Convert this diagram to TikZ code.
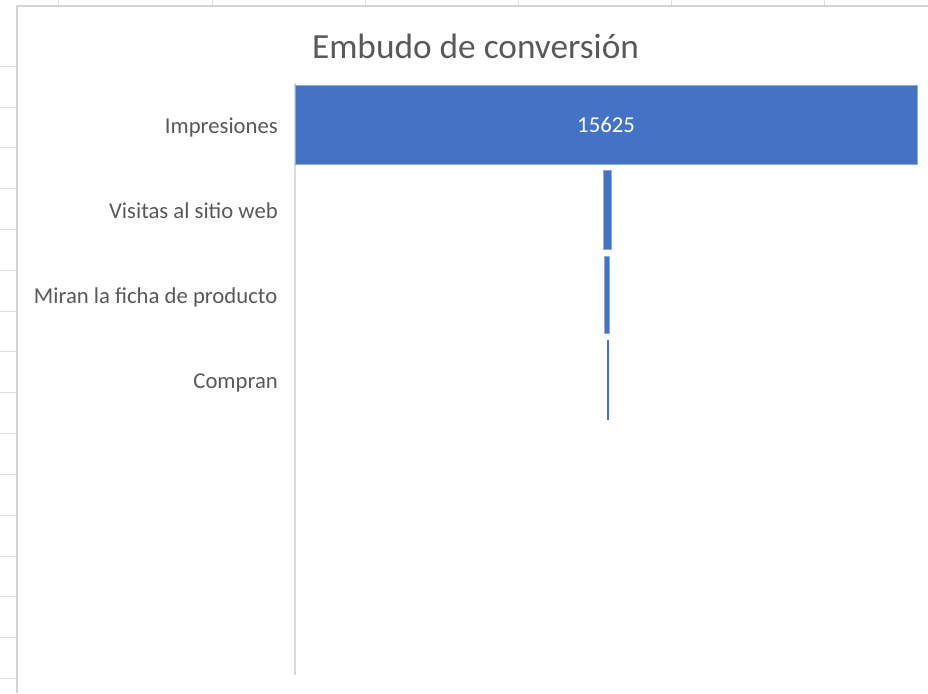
\documentclass[tikz,border=0pt]{standalone}
\usepackage{fontspec}
\setmainfont{Carlito}
\definecolor{barblue}{HTML}{4472C4}
\definecolor{baredge}{HTML}{8FAADC}
\definecolor{txtgray}{HTML}{595959}
\definecolor{axisgray}{HTML}{D9D9D9}
\definecolor{gridgray}{HTML}{DDDDDD}
\definecolor{framegray}{HTML}{D4D4D4}
\tikzset{
  bar/.style={fill=barblue, draw=baredge, line width=0.5pt, inner sep=0pt, outer sep=0pt, text=white, font=\fontsize{22.7}{27}\selectfont},
  catlabel/.style={anchor=base east, inner sep=0pt, text=txtgray, font=\fontsize{22.7}{27}\selectfont},
  charttitle/.style={anchor=base, inner sep=0pt, text=txtgray, font=\fontsize{35.3}{42}\selectfont},
  gridline/.style={draw=gridgray, line width=1pt},
  frameline/.style={draw=framegray, line width=2pt},
  axisline/.style={draw=axisgray, line width=1.5pt}
}
\begin{document}
\begin{tikzpicture}[x=1pt, y=-1pt]
\useasboundingbox (0,0) rectangle (928,693);
\fill[white] (0,0) rectangle (928,693);
% spreadsheet grid outside the chart
\foreach \gx in {58,212,365,518,671,824} {
  \draw[gridline] (\gx,0) -- (\gx,6);
}
\foreach \k in {-1,...,14} {
  \draw[gridline] (0,{107+40.83*\k}) -- (17,{107+40.83*\k});
}
% chart frame
\draw[frameline] (17,693) -- (17,6) -- (928,6);
% title
\node[charttitle] (title) at (475.5,59) {Embudo de conversión};
% axis
\coordinate (axtop) at (295,83);
\coordinate (axbot) at (295,675);
\draw[axisline] (axtop) -- (axbot);
% bars
\node[bar, minimum width=622pt, minimum height=79pt] (b1) at (606,124.5) {15625};
\node[bar, minimum width=8pt, minimum height=79pt] (b2) at (607,209.5) {};
\node[bar, minimum width=5.4pt, minimum height=77pt] (b3) at (607,294.5) {};
\node[bar, draw=barblue, minimum width=1.3pt, minimum height=79pt, line width=0.2pt] (b4) at (607.6,379.5) {};
% category labels
\node[catlabel] (l1) at (278,133) {Impresiones};
\node[catlabel] (l2) at (278,218) {Visitas al sitio web};
\node[catlabel] (l3) at (277.5,303) {Miran la ficha de producto};
\node[catlabel] (l4) at (278,388) {Compran};
\end{tikzpicture}
\end{document}
